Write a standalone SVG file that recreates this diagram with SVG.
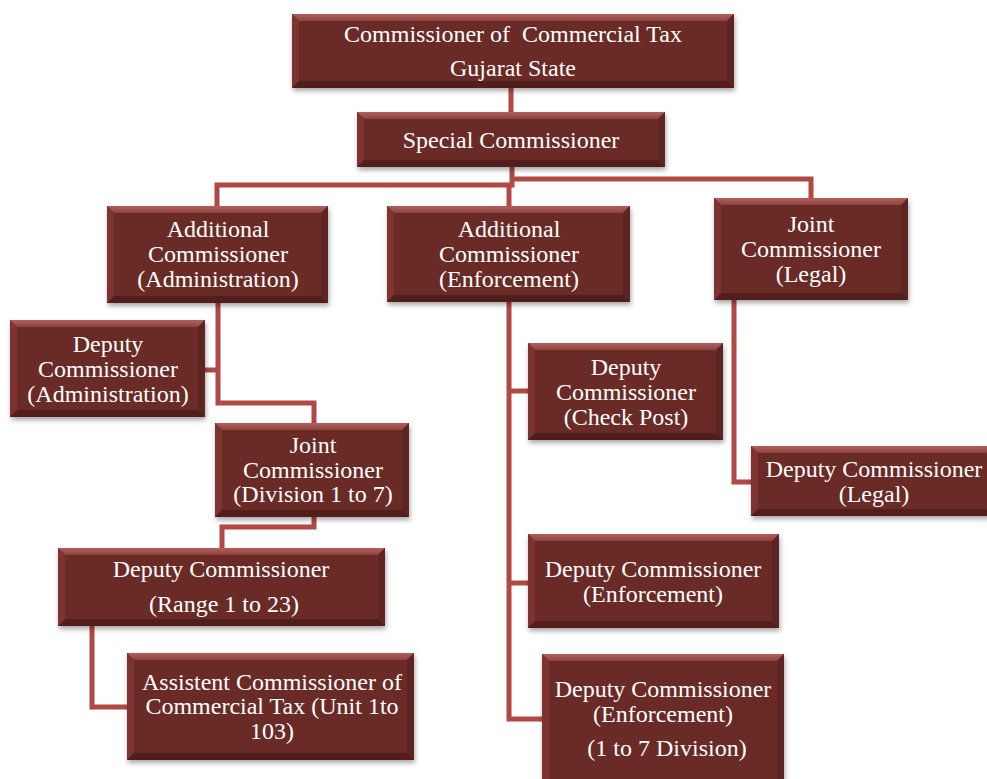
<svg xmlns="http://www.w3.org/2000/svg" width="987" height="779" viewBox="0 0 987 779">
<defs>
<filter id="sh" x="-10%" y="-10%" width="125%" height="140%"><feDropShadow dx="1" dy="3" stdDeviation="2.5" flood-color="#000" flood-opacity="0.35"/></filter>
<linearGradient id="tg" x1="0" y1="0" x2="0" y2="1"><stop offset="0" stop-color="#b0605c"/><stop offset="1" stop-color="#8e4340"/></linearGradient>
</defs>
<style>
.base{fill:#6a2a28;filter:url(#sh)}
.bt{fill:url(#tg)}
.bl{fill:#7d3431}
.br{fill:#5e2422}
.bb{fill:#521e1c}
.c{fill:none;stroke:#b04846;stroke-width:5;stroke-linejoin:miter}
text{font-family:"Liberation Serif","Times New Roman",serif;font-size:24px;fill:#fff;text-anchor:middle}
</style>
<rect width="987" height="779" fill="#fff"/>
<g id="connectors">
<path class="c" d="M511 88V112"/>
<path class="c" d="M512 167V185H217V206"/>
<path class="c" d="M512 179H811V198"/>
<path class="c" d="M509 183V206"/>
<path class="c" d="M218 303V403H314V423"/>
<path class="c" d="M218 370H205"/>
<path class="c" d="M314 517V527H222V548"/>
<path class="c" d="M92 626V707H127"/>
<path class="c" d="M509 302V719H542"/>
<path class="c" d="M509 391H528"/>
<path class="c" d="M509 583H528"/>
<path class="c" d="M734 300V482H751"/>
</g>
<g id="n1">
<rect class="base" x="292" y="14" width="442" height="74"/>
<polygon class="bt" points="292,14 734,14 727,21 299,21"/><polygon class="bl" points="292,14 299,21 299,81 292,88"/><polygon class="br" points="734,14 734,88 727,81 727,21"/><polygon class="bb" points="292,88 299,81 727,81 734,88"/>
<text x="513" y="42" style="white-space:pre">Commissioner of  Commercial Tax</text>
<text x="513" y="76">Gujarat State</text>
</g>
<g id="n2">
<rect class="base" x="357" y="112" width="308" height="55"/>
<polygon class="bt" points="357,112 665,112 658,119 364,119"/><polygon class="bl" points="357,112 364,119 364,160 357,167"/><polygon class="br" points="665,112 665,167 658,160 658,119"/><polygon class="bb" points="357,167 364,160 658,160 665,167"/>
<text x="511" y="148">Special Commissioner</text>
</g>
<g id="n3">
<rect class="base" x="107" y="206" width="221" height="97"/>
<polygon class="bt" points="107,206 328,206 321,213 114,213"/><polygon class="bl" points="107,206 114,213 114,296 107,303"/><polygon class="br" points="328,206 328,303 321,296 321,213"/><polygon class="bb" points="107,303 114,296 321,296 328,303"/>
<text x="218" y="237">Additional</text><text x="218" y="262">Commissioner</text><text x="218" y="287">(Administration)</text>
</g>
<g id="n4">
<rect class="base" x="387" y="206" width="243" height="96"/>
<polygon class="bt" points="387,206 630,206 623,213 394,213"/><polygon class="bl" points="387,206 394,213 394,295 387,302"/><polygon class="br" points="630,206 630,302 623,295 623,213"/><polygon class="bb" points="387,302 394,295 623,295 630,302"/>
<text x="509" y="237">Additional</text><text x="509" y="262">Commissioner</text><text x="509" y="287">(Enforcement)</text>
</g>
<g id="n5">
<rect class="base" x="714" y="198" width="194" height="102"/>
<polygon class="bt" points="714,198 908,198 901,205 721,205"/><polygon class="bl" points="714,198 721,205 721,293 714,300"/><polygon class="br" points="908,198 908,300 901,293 901,205"/><polygon class="bb" points="714,300 721,293 901,293 908,300"/>
<text x="811" y="232">Joint</text><text x="811" y="257">Commissioner</text><text x="811" y="282">(Legal)</text>
</g>
<g id="n6">
<rect class="base" x="10" y="320" width="195" height="97"/>
<polygon class="bt" points="10,320 205,320 198,327 17,327"/><polygon class="bl" points="10,320 17,327 17,410 10,417"/><polygon class="br" points="205,320 205,417 198,410 198,327"/><polygon class="bb" points="10,417 17,410 198,410 205,417"/>
<text x="108" y="352">Deputy</text><text x="108" y="377">Commissioner</text><text x="108" y="402">(Administration)</text>
</g>
<g id="n7">
<rect class="base" x="215" y="423" width="194" height="94"/>
<polygon class="bt" points="215,423 409,423 402,430 222,430"/><polygon class="bl" points="215,423 222,430 222,510 215,517"/><polygon class="br" points="409,423 409,517 402,510 402,430"/><polygon class="bb" points="215,517 222,510 402,510 409,517"/>
<text x="313" y="453">Joint</text><text x="313" y="478">Commissioner</text><text x="313" y="502">(Division 1 to 7)</text>
</g>
<g id="n8">
<rect class="base" x="58" y="548" width="327" height="78"/>
<polygon class="bt" points="58,548 385,548 378,555 65,555"/><polygon class="bl" points="58,548 65,555 65,619 58,626"/><polygon class="br" points="385,548 385,626 378,619 378,555"/><polygon class="bb" points="58,626 65,619 378,619 385,626"/>
<text x="221" y="577">Deputy Commissioner</text><text x="224" y="612">(Range 1 to 23)</text>
</g>
<g id="n9">
<rect class="base" x="127" y="653" width="287" height="107"/>
<polygon class="bt" points="127,653 414,653 407,660 134,660"/><polygon class="bl" points="127,653 134,660 134,753 127,760"/><polygon class="br" points="414,653 414,760 407,753 407,660"/><polygon class="bb" points="127,760 134,753 407,753 414,760"/>
<text x="272" y="690">Assistent Commissioner of</text><text x="272" y="714">Commercial Tax (Unit 1to</text><text x="272" y="739">103)</text>
</g>
<g id="n10">
<rect class="base" x="528" y="343" width="195" height="97"/>
<polygon class="bt" points="528,343 723,343 716,350 535,350"/><polygon class="bl" points="528,343 535,350 535,433 528,440"/><polygon class="br" points="723,343 723,440 716,433 716,350"/><polygon class="bb" points="528,440 535,433 716,433 723,440"/>
<text x="626" y="375">Deputy</text><text x="626" y="400">Commissioner</text><text x="626" y="425">(Check Post)</text>
</g>
<g id="n11">
<rect class="base" x="751" y="446" width="242" height="70"/>
<polygon class="bt" points="751,446 993,446 986,453 758,453"/><polygon class="bl" points="751,446 758,453 758,509 751,516"/><polygon class="bb" points="751,516 758,509 986,509 993,516"/>
<text x="874" y="477">Deputy Commissioner</text><text x="874" y="502">(Legal)</text>
</g>
<g id="n12">
<rect class="base" x="528" y="534" width="251" height="94"/>
<polygon class="bt" points="528,534 779,534 772,541 535,541"/><polygon class="bl" points="528,534 535,541 535,621 528,628"/><polygon class="br" points="779,534 779,628 772,621 772,541"/><polygon class="bb" points="528,628 535,621 772,621 779,628"/>
<text x="653" y="577">Deputy Commissioner</text><text x="653" y="602">(Enforcement)</text>
</g>
<g id="n13">
<rect class="base" x="542" y="654" width="242" height="130"/>
<polygon class="bt" points="542,654 784,654 777,661 549,661"/><polygon class="bl" points="542,654 549,661 549,784 542,784"/><polygon class="br" points="784,654 784,784 777,784 777,661"/>
<text x="663" y="697">Deputy Commissioner</text><text x="663" y="722">(Enforcement)</text><text x="667" y="756">(1 to 7 Division)</text>
</g>
</svg>
